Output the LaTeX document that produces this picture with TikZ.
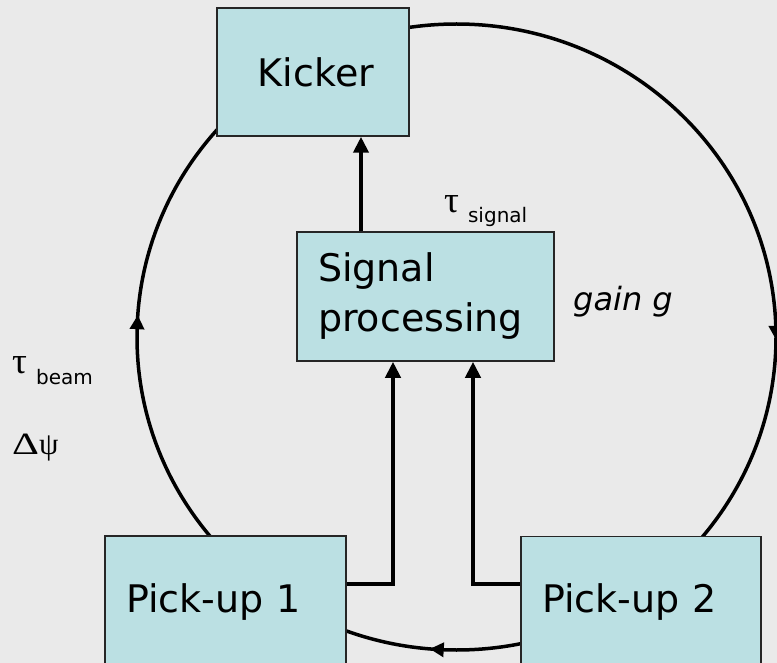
\documentclass[tikz,border=0pt]{standalone}
\usepackage{fontspec}
\setmainfont{DejaVu Sans}
\newfontfamily\greekfont{Liberation Serif}
\usetikzlibrary{arrows.meta}
\definecolor{bg}{HTML}{EAEAEA}
\definecolor{boxfill}{HTML}{BBE0E3}
\begin{document}
\begin{tikzpicture}[x=1pt,y=-1pt,
  unit/.style={draw=black!85, line width=1.5pt, fill=boxfill, inner ysep=0pt,
    inner xsep=21pt, align=left, font=\fontsize{38}{50}\selectfont},
  ring/.style={line width=3.5pt},
  feed/.style={line width=4pt, -{Triangle[length=16pt,width=15pt]}},
  ringtip/.style={line width=3.5pt, -{Triangle[length=14pt,width=14pt]}},
  plain/.style={anchor=base west, inner sep=0pt}]
\path[use as bounding box, fill=bg] (0,0) rectangle (777,663);
\clip (0,0) rectangle (777,663);

% beam orbit
\coordinate (c) at (456.5,337);
\draw[ring] (c) ellipse [x radius=319.5, y radius=313];
\path (c) ++(182:319.5 and 313) coordinate (l0);
\path (c) ++(184:319.5 and 313) coordinate (l1);
\path (c) ++(358.5:319.5 and 313) coordinate (r0);
\path (c) ++(0.5:319.5 and 313) coordinate (r1);
\path (c) ++(92.5:319.5 and 313) coordinate (b0);
\path (c) ++(94.8:319.5 and 313) coordinate (b1);
\draw[ringtip] (l0) -- (l1);
\draw[ringtip] (r0) -- (r1);
\draw[ringtip] (b0) -- (b1);

% system blocks
\node[unit, align=center, minimum width=192pt, minimum height=128pt, text width=150pt] (kicker) at (313,72) {\hspace*{6pt}Kicker};
\node[unit, minimum width=257pt, minimum height=129pt, text width=215pt] (sig) at (425.5,296.5) {Signal\\processing};
\node[unit, minimum width=241pt, minimum height=132pt, text width=199pt] (pu1) at (225.5,602) {Pick-up 1};
\node[unit, minimum width=240pt, minimum height=132pt, text width=198pt] (pu2) at (641,602.5) {Pick-up 2};

% signal paths
\coordinate (kx) at (361,0);
\draw[feed] (sig.north -| kx) -- (kicker.south -| kx);
\coordinate (j1) at (393,584);
\draw[feed] (pu1.east |- j1) -- (j1) -- (sig.south -| j1);
\coordinate (j2) at (473,584);
\draw[feed] (pu2.west |- j2) -- (j2) -- (sig.south -| j2);

% annotations
\node[plain] (tsig) at (444,213) {\greekfont\fontsize{37}{37}\selectfont τ\hspace{9pt}\raisebox{-10pt}{\rmfamily\fontsize{20}{24}\selectfont signal}};
\node[plain] (tbeam) at (12,373) {\greekfont\fontsize{37}{37}\selectfont τ\hspace{9pt}\raisebox{-11pt}{\rmfamily\fontsize{20}{24}\selectfont beam}};
\node[plain] (dpsi) at (12,454) {\greekfont\fontsize{31}{31}\selectfont \scalebox{1.35}[1]{Δ}ψ};
\node[plain, font=\fontsize{32}{38}\selectfont\itshape] (gain) at (573,310) {gain g};
\end{tikzpicture}
\end{document}
